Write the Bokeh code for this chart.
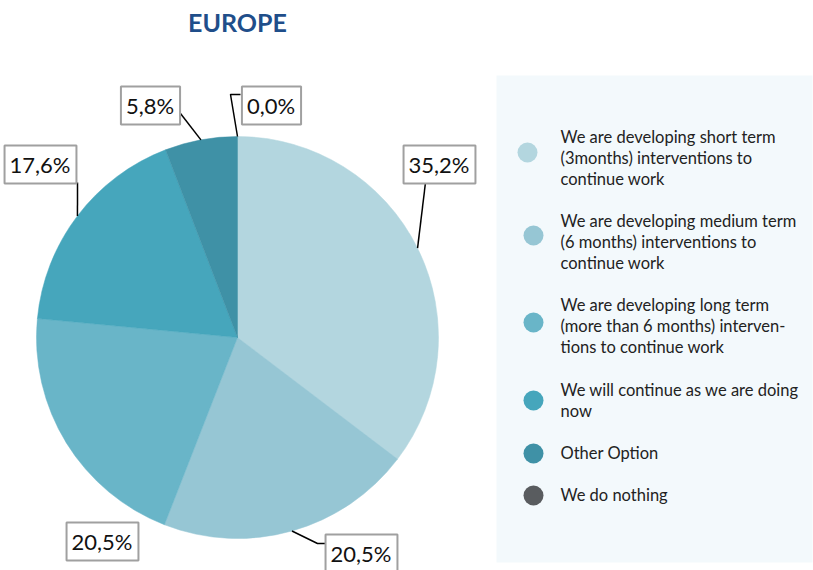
import math
from bokeh.plotting import figure
from bokeh.models import Range1d
from bokeh.core.properties import value
from bokeh.embed import file_html
from bokeh.resources import INLINE

# ---- data ----
categories = [
    "We are developing short term\n(3months) interventions to\ncontinue work",
    "We are developing medium term\n(6 months) interventions to\ncontinue work",
    "We are developing long term\n(more than 6 months) interven-\ntions to continue work",
    "We will continue as we are doing\nnow",
    "Other Option",
    "We do nothing",
]
values = [35.2, 20.5, 20.5, 17.6, 5.8, 0.0]
colors = ["#b3d6df", "#96c6d4", "#69b5c8", "#46a6bc", "#3f91a6", "#595c5f"]
labels = ["35,2%", "20,5%", "20,5%", "17,6%", "5,8%", "0,0%"]

# ---- layout (screen px, y down; converted below) ----
W, H = 813, 570
def Y(s):
    return 570 - s

cx, cy, R = 237, 337, 201
label_pos = [(439, 164), (361, 553), (102, 541), (40, 164), (150, 105), (271, 105)]
leader_mid = [[(425, 182)], [(317, 543), (325, 543)], None, [(77, 182)], [(180, 113)], [(230, 94), (240, 94)]]
legend_circle = [(527, 152), (533, 235), (533, 322), (533, 400), (533, 453), (533, 495)]
legend_text_top = [126, 210, 294, 379, 442, 484]

p = figure(width=W, height=H, output_backend="svg", toolbar_location=None,
           x_range=Range1d(0, W), y_range=Range1d(Y(H), Y(0)),
           min_border=0, outline_line_color=None)
p.axis.visible = False
p.grid.visible = False
p.background_fill_color = "white"
p.border_fill_color = "white"

# legend background
p.quad(left=496, right=812, top=Y(75), bottom=Y(562), fill_color="#f3f9fc", line_color=None)

# pie
total = sum(values)
cum = 0.0
starts, ends, mids = [], [], []
for v in values:
    a0 = math.pi / 2 - 2 * math.pi * cum / total
    cum += v
    a1 = math.pi / 2 - 2 * math.pi * cum / total
    starts.append(a0); ends.append(a1); mids.append((a0 + a1) / 2)

nz = [i for i, v in enumerate(values) if v > 0]
p.wedge(x=[cx] * len(nz), y=[Y(cy)] * len(nz), radius=R,
        start_angle=[starts[i] for i in nz], end_angle=[ends[i] for i in nz], direction="clock",
        fill_color=[colors[i] for i in nz], line_color=[colors[i] for i in nz], line_width=0.5)

# leaders
for i, m in enumerate(mids):
    pts = leader_mid[i]
    if not pts:
        continue
    ex = cx + R * math.cos(m)
    ey = Y(cy) + R * math.sin(m)
    xs = [ex] + [q[0] for q in pts]
    ys = [ey] + [Y(q[1]) for q in pts]
    p.line(xs, ys, line_color="black", line_width=1.5)

# data labels
p.text(x=[q[0] for q in label_pos], y=[Y(q[1]) for q in label_pos], text=labels,
       text_font=value("Lato"), text_font_size="22px", text_color="#111111",
       text_align="center", text_baseline="middle",
       background_fill_color="white", border_line_color="#a0a0a0", border_line_width=2,
       padding=[5, 6, 5, 6])

# legend
p.scatter(x=[q[0] for q in legend_circle], y=[Y(q[1]) for q in legend_circle],
          size=20, marker="circle", fill_color=colors, line_color=None)
p.text(x=[560] * len(categories), y=[Y(t) for t in legend_text_top], text=categories,
       text_font=value("Lato"), text_font_size="16.5px", text_color="#222222",
       text_align="left", text_baseline="top", text_line_height=1.07)

# title
p.text(x=[237], y=[Y(21)], text=["EUROPE"], text_font=value("Lato"),
       text_font_size="25px", text_font_style="bold", text_color="#1f4e8a",
       text_align="center", text_baseline="middle")

open("out.html", "w").write(file_html(p, INLINE))
